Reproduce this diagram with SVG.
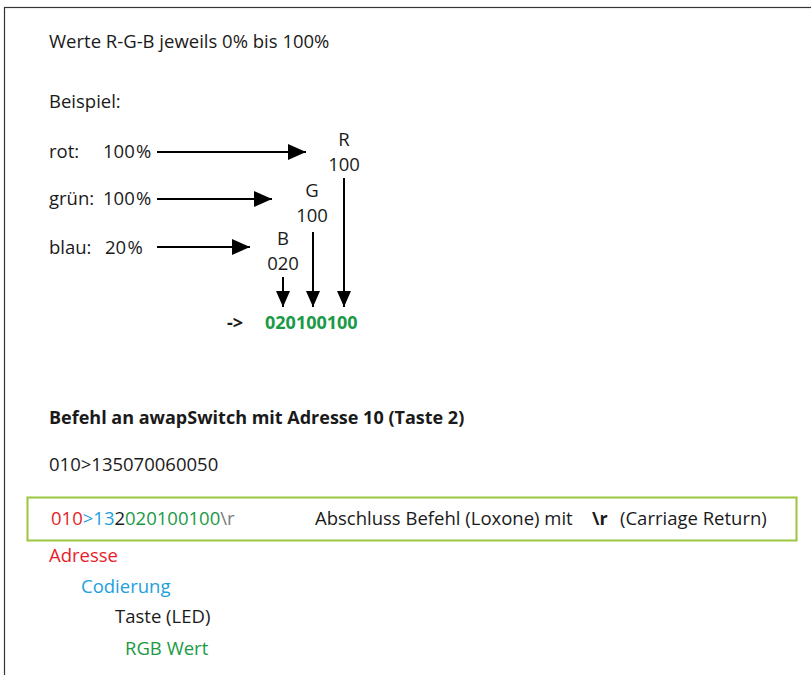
<svg xmlns="http://www.w3.org/2000/svg" width="811" height="675" viewBox="0 0 811 675">
<style>
text{font-family:"Open Sans","Liberation Sans",sans-serif;font-size:18.5px;fill:#1a1a1a}
.b{font-weight:bold;font-size:18px}
.m{text-anchor:middle}
.pc{word-spacing:-3.5px}
.red{fill:#e61e2b}
.blue{fill:#22a0dc}
.green{fill:#1a9a45}
.grey{fill:#7a7a7a}
.ar{stroke:#000;stroke-width:2;fill:none}
</style>
<defs>
<marker id="ah" viewBox="0 0 18 16" refX="18" refY="8" markerWidth="18" markerHeight="16" markerUnits="userSpaceOnUse" orient="auto"><path d="M0,0L18,8L0,16Z" fill="#000"/></marker>
<marker id="ahs" viewBox="0 0 16 14" refX="16" refY="7" markerWidth="16" markerHeight="14" markerUnits="userSpaceOnUse" orient="auto"><path d="M0,0L16,7L0,14Z" fill="#000"/></marker>
</defs>
<rect x="0" y="0" width="811" height="675" fill="#fff"/>
<rect x="4.5" y="7.5" width="820" height="680" fill="none" stroke="#333" stroke-width="1.2"/>
<g id="title"><text x="49" y="48">Werte R-G-B jeweils 0% bis 100%</text></g>
<g id="beispiel"><text x="49" y="108">Beispiel:</text></g>
<g id="rot"><text x="49" y="158">rot:</text><text class="pc" x="103" y="158">100 %</text></g>
<g id="gruen"><text x="49" y="205">grün:</text><text class="pc" x="103" y="205">100 %</text></g>
<g id="blau"><text x="49" y="254">blau:</text><text class="pc" x="105" y="254">20 %</text></g>
<g id="R"><text class="m" x="344" y="146">R</text><text class="m" x="344" y="171">100</text></g>
<g id="G"><text class="m" x="312" y="197">G</text><text class="m" x="312" y="222">100</text></g>
<g id="B"><text class="m" x="283" y="245">B</text><text class="m" x="283" y="270">020</text></g>
<g id="result"><text class="b" x="227" y="329">-&gt;</text><text class="b green" x="265" y="329">020100100</text></g>
<g id="connectors">
<line class="ar" x1="157" y1="152" x2="306" y2="152" marker-end="url(#ah)"/>
<line class="ar" x1="157" y1="199" x2="272" y2="199" marker-end="url(#ah)"/>
<line class="ar" x1="157" y1="247" x2="250" y2="247" marker-end="url(#ah)"/>
<line class="ar" x1="283" y1="277" x2="283" y2="307" marker-end="url(#ahs)"/>
<line class="ar" x1="313" y1="232" x2="313" y2="307" marker-end="url(#ahs)"/>
<line class="ar" x1="344" y1="178" x2="344" y2="307" marker-end="url(#ahs)"/>
</g>
<g id="befehl"><text class="b" x="49" y="424">Befehl an awapSwitch mit Adresse 10 (Taste 2)</text></g>
<g id="code"><text x="49" y="471">010&gt;135070060050</text></g>
<g id="box">
<rect x="27.5" y="497.5" width="769" height="43" fill="none" stroke="#9bc53d" stroke-width="2"/>
<text x="51" y="525"><tspan class="red">010</tspan><tspan class="blue">&gt;13</tspan><tspan>2</tspan><tspan class="green">020100100</tspan><tspan class="grey">\r</tspan></text>
<text x="315" y="525">Abschluss Befehl (Loxone) mit</text>
<text class="b" x="592" y="525">\r</text>
<text x="620" y="525">(Carriage Return)</text>
</g>
<g id="legend">
<text class="red" x="49" y="562">Adresse</text>
<text class="blue" x="81" y="593">Codierung</text>
<text x="115" y="623">Taste (LED)</text>
<text class="green" x="125" y="655">RGB Wert</text>
</g>
</svg>
